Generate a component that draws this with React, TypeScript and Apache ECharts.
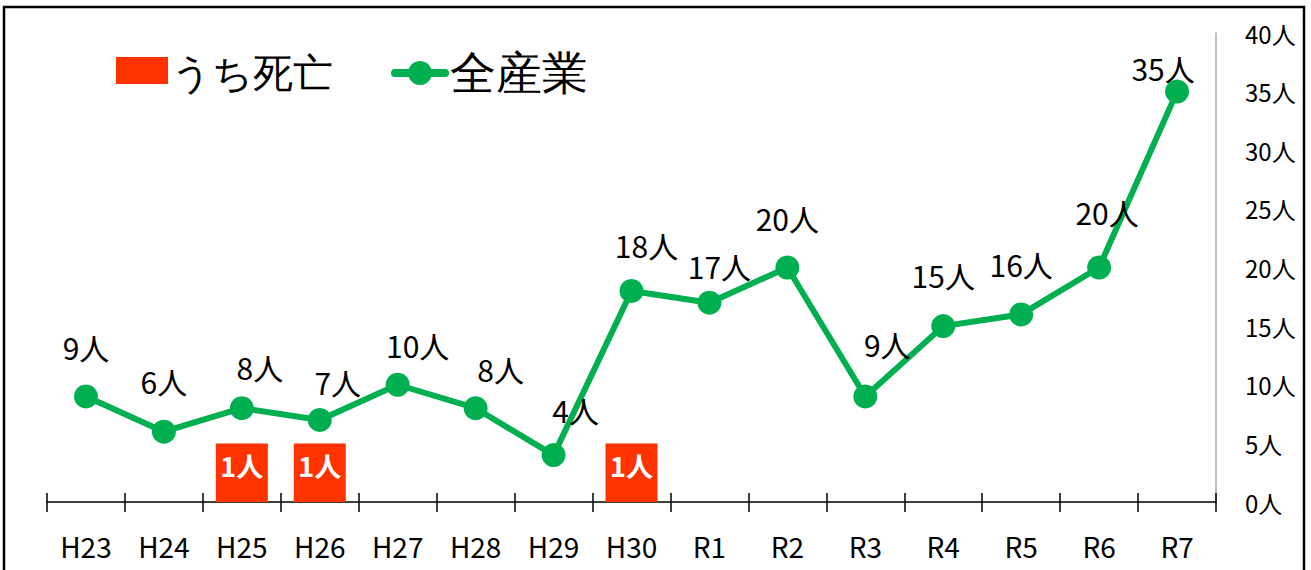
import React, { useEffect, useRef } from "react";
import * as echarts from "echarts";

const categories = ["H23", "H24", "H25", "H26", "H27", "H28", "H29", "H30", "R1", "R2", "R3", "R4", "R5", "R6", "R7"];
const allIndustry = [9, 6, 8, 7, 10, 8, 4, 18, 17, 20, 9, 15, 16, 20, 35];
const deaths = [null, null, 1, 1, null, null, null, 1, null, null, null, null, null, null, null];
const labelOffsets: [number, number][] = [
  [0, -2], [0, -4], [18, 6], [18, 9], [20, 7], [25, 8], [22, 2], [15, 1],
  [10, 10], [0, -3], [22, -5], [0, -4], [0, -3], [8, -9], [-14, 23],
];
const yTicks = [0, 40, 5];
const legendNames = ["うち死亡", "全産業"];

const FONT = "Noto Sans CJK JP, sans-serif";
const GREEN = "#00B050";
const RED = "#FF3300";

export default function App() {
  const ref = useRef<HTMLDivElement>(null);
  useEffect(() => {
    const chart = echarts.init(ref.current!, null, { renderer: "svg" });
    chart.setOption({
      animation: false,
      backgroundColor: "#fff",
      textStyle: { fontFamily: FONT },
      grid: { left: 47, right: 95, top: 33, bottom: 68, containLabel: false },
      xAxis: [
        {
          type: "category",
          data: categories,
          boundaryGap: true,
          position: "bottom",
          axisLine: { show: true, lineStyle: { color: "#000", width: 1.5 } },
          axisTick: { show: true, inside: false, length: 10, lineStyle: { color: "#000", width: 1.5 } },
          axisLabel: { fontSize: 28, color: "#000", margin: 30, fontFamily: FONT },
        },
        {
          type: "category",
          data: categories,
          boundaryGap: true,
          position: "bottom",
          axisLine: { show: false },
          axisTick: { show: true, inside: true, length: 9, lineStyle: { color: "#000", width: 1.5 } },
          axisLabel: { show: false },
        },
      ],
      yAxis: [
        {
          type: "value",
          position: "right",
          min: yTicks[0],
          max: yTicks[1],
          interval: yTicks[2],
          axisLine: { show: true, lineStyle: { color: "#aaa", width: 1.5 } },
          axisTick: { show: false },
          splitLine: { show: false },
          axisLabel: { fontSize: 24, color: "#000", margin: 29, formatter: "{value}人", fontFamily: FONT },
        },
        {
          type: "value",
          position: "left",
          min: 0,
          max: 8,
          show: false,
          splitLine: { show: false },
        },
      ],
      series: [
        {
          name: legendNames[0],
          type: "bar",
          xAxisIndex: 0,
          yAxisIndex: 1,
          data: deaths,
          barWidth: 52,
          itemStyle: { color: RED },
          label: {
            show: true,
            position: "inside",
            offset: [0, -7],
            formatter: "{c}人",
            color: "#fff",
            fontWeight: "bold",
            fontSize: 27,
            fontFamily: FONT,
          },
          z: 1,
        },
        {
          name: legendNames[1],
          type: "line",
          xAxisIndex: 0,
          yAxisIndex: 0,
          data: allIndustry.map((v, i) => ({
            value: v,
            label: { offset: labelOffsets[i] },
          })),
          symbol: "circle",
          symbolSize: 24,
          lineStyle: { color: GREEN, width: 6 },
          itemStyle: { color: GREEN },
          label: {
            show: true,
            position: "top",
            distance: 20,
            formatter: "{c}人",
            color: "#000",
            fontSize: 30,
            fontFamily: FONT,
          },
          z: 3,
        },
      ],
      graphic: [
        {
          type: "rect",
          shape: { x: 116, y: 57, width: 52, height: 27 },
          style: { fill: RED },
          silent: true,
        },
        {
          type: "text",
          x: 171,
          y: 73,
          style: { text: legendNames[0], fontSize: 40, fill: "#000", font: "40px Noto Sans CJK JP", verticalAlign: "middle", align: "left" },
          silent: true,
        },
        {
          type: "line",
          shape: { x1: 395, y1: 73, x2: 445, y2: 73 },
          style: { stroke: GREEN, lineWidth: 8, lineCap: "round" },
          silent: true,
        },
        {
          type: "circle",
          shape: { cx: 420, cy: 73, r: 12 },
          style: { fill: GREEN },
          silent: true,
        },
        {
          type: "text",
          x: 450,
          y: 73,
          style: { text: legendNames[1], fontSize: 46, fill: "#000", font: "46px Noto Sans CJK JP", verticalAlign: "middle", align: "left" },
          silent: true,
        },
        {
          type: "rect",
          shape: { x: 4, y: 7, width: 1300, height: 570 },
          style: { fill: "none", stroke: "#000", lineWidth: 2.5 },
          silent: true,
          z: 100,
        },
      ],
    });
    return () => chart.dispose();
  }, []);
  return (
    <div
      ref={ref}
      style={{ position: "fixed", left: 0, top: 0, width: 1311, height: 570 }}
    />
  );
}
